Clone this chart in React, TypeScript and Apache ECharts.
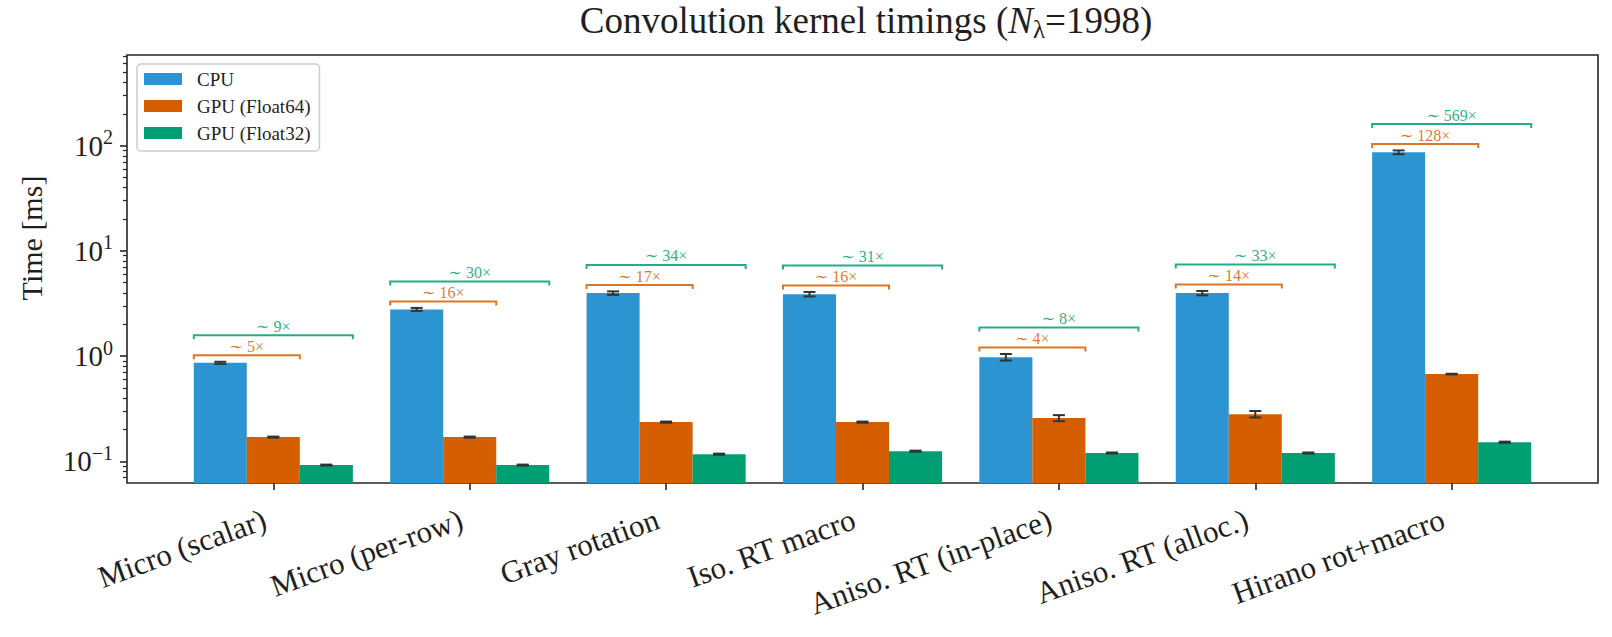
import * as echarts from "echarts";
import { useEffect, useRef } from "react";

const CATEGORIES = [
  "Micro (scalar)",
  "Micro (per-row)",
  "Gray rotation",
  "Iso. RT macro",
  "Aniso. RT (in-place)",
  "Aniso. RT (alloc.)",
  "Hirano rot+macro",
];

/** 各 kernel 平均耗时（ms）及误差（std），读自原图。 */
const CPU_MS = [0.864, 2.78, 3.97, 3.88, 0.978, 3.97, 86.5];
const CPU_ERR = [0.02, 0.09, 0.15, 0.19, 0.07, 0.19, 3.5];
const GPU64_MS = [0.17, 0.17, 0.236, 0.236, 0.258, 0.281, 0.675];
const GPU64_ERR = [0.002, 0.002, 0.003, 0.003, 0.017, 0.02, 0.005];
const GPU32_MS = [0.0922, 0.0922, 0.117, 0.125, 0.12, 0.12, 0.152];
const GPU32_ERR = [0.001, 0.001, 0.0015, 0.0015, 0.0015, 0.0015, 0.002];

/** 括号上的加速比标注。 */
const SPEEDUP_64 = [5, 16, 17, 16, 4, 14, 128];
const SPEEDUP_32 = [9, 30, 34, 31, 8, 33, 569];

const Y_MIN = 0.0623;
const Y_MAX = 726;
const Y_MAJOR_TICKS = [0.1, 1, 10, 100];
const Y_MINOR_TICKS = [
  0.07, 0.08, 0.09, 0.2, 0.3, 0.4, 0.5, 0.6, 0.7, 0.8, 0.9, 2, 3, 4, 5, 6, 7, 8, 9, 20, 30, 40,
  50, 60, 70, 80, 90, 200, 300, 400, 500, 600, 700,
];
const X_TICKS = [0, 1, 2, 3, 4, 5, 6];

const SERIES_NAMES = ["CPU", "GPU (Float64)", "GPU (Float32)"];
const SERIES_COLORS = ["#2c94d1", "#d55e00", "#009e73"];

const FONT = '"Liberation Serif", "DejaVu Serif", serif';
const INK = "#1f1f1f";
const FRAME = "#262626";
const ERR_COLOR = "#333333";
/** 每根柱宽（类目间距 = 1）。 */
const BAR_W = 0.27;
/** 括号高度：CPU 柱顶（含误差）× LIFT；Float32 括号再 × STEP。 */
const BRACKET_LIFT = 1.15;
const BRACKET_STEP = 1.55;

interface RectShape {
  x: number;
  y: number;
  width: number;
  height: number;
}

function barRenderer(offset: number, color: string): echarts.CustomSeriesRenderItem {
  return (params, api) => {
    const i = api.value(0) as number;
    const v = api.value(1) as number;
    const e = api.value(2) as number;
    const cs = params.coordSys as unknown as RectShape;
    const [x0, yTop] = api.coord([i + offset - BAR_W / 2, v]);
    const [x1] = api.coord([i + offset + BAR_W / 2, v]);
    const bottom = cs.y + cs.height;
    const xc = (x0 + x1) / 2;
    const yLo = api.coord([i, v - e])[1];
    const yHi = api.coord([i, v + e])[1];
    const errStyle = { stroke: ERR_COLOR, lineWidth: 2 };
    return {
      type: "group",
      children: [
        {
          type: "rect",
          shape: { x: x0, y: yTop, width: x1 - x0, height: bottom - yTop },
          style: { fill: color },
        },
        { type: "line", shape: { x1: xc, y1: yLo, x2: xc, y2: yHi }, style: errStyle },
        { type: "line", shape: { x1: xc - 6, y1: yLo, x2: xc + 6, y2: yLo }, style: errStyle },
        { type: "line", shape: { x1: xc - 6, y1: yHi, x2: xc + 6, y2: yHi }, style: errStyle },
      ],
    } as echarts.CustomSeriesRenderItemReturn;
  };
}

const bracketRenderer: echarts.CustomSeriesRenderItem = (_params, api) => {
  const i = api.value(0) as number;
  const top = api.value(1) as number;
  const s64 = api.value(2) as number;
  const s32 = api.value(3) as number;
  const y64 = top * BRACKET_LIFT;
  const y32 = y64 * BRACKET_STEP;
  const [xl, py64] = api.coord([i - 1.5 * BAR_W, y64]);
  const [xm] = api.coord([i + 0.5 * BAR_W, y64]);
  const [xr, py32] = api.coord([i + 1.5 * BAR_W, y32]);
  const bracket = (x1: number, x2: number, y: number, color: string) => ({
    type: "polyline",
    shape: {
      points: [
        [x1, y + 4],
        [x1, y],
        [x2, y],
        [x2, y + 4],
      ],
    },
    style: { stroke: color, lineWidth: 2, fill: "none", opacity: 0.85 },
  });
  const label = (x: number, y: number, text: string, color: string) => ({
    type: "text",
    silent: true,
    style: {
      text,
      x,
      y: y - 1,
      align: "center",
      verticalAlign: "bottom",
      fill: color,
      opacity: 0.85,
      fontSize: 16,
      fontFamily: FONT,
    },
  });
  return {
    type: "group",
    children: [
      bracket(xl, xm, py64, SERIES_COLORS[1]),
      label((xl + xm) / 2, py64, `\u223c ${s64}\u00d7`, SERIES_COLORS[1]),
      bracket(xl, xr, py32, SERIES_COLORS[2]),
      label((xl + xr) / 2, py32, `\u223c ${s32}\u00d7`, SERIES_COLORS[2]),
    ],
  } as echarts.CustomSeriesRenderItemReturn;
};

function yTickLabel(value: number): string {
  const exp = Math.round(Math.log10(value));
  const sup = exp < 0 ? `\u2212${-exp}` : `${exp}`;
  return `{b|10}{s|${sup}}`;
}

function buildOption(): echarts.EChartsOption {
  const gridBox = { left: 127, top: 55, right: 14, bottom: 154 };
  const values = [CPU_MS, GPU64_MS, GPU32_MS];
  const errs = [CPU_ERR, GPU64_ERR, GPU32_ERR];
  const offsets = [-BAR_W, 0, BAR_W];

  const barSeries = SERIES_NAMES.map((name, s) => ({
    type: "custom" as const,
    name,
    xAxisIndex: 0,
    yAxisIndex: 0,
    itemStyle: { color: SERIES_COLORS[s] },
    renderItem: barRenderer(offsets[s], SERIES_COLORS[s]),
    encode: { x: 0, y: 1 },
    data: values[s].map((v, i) => [i, v, errs[s][i]]),
  }));

  return {
    animation: false,
    title: {
      text: "{r|Convolution kernel timings (}{i|N}{sub|λ}{r|=1998)}",
      left: 861,
      top: -6,
      textAlign: "center",
      textStyle: {
        fontWeight: "normal",
        rich: {
          r: { fontFamily: FONT, fontSize: 37, fontWeight: "normal", color: INK },
          i: {
            fontFamily: FONT,
            fontSize: 37,
            fontWeight: "normal",
            fontStyle: "italic",
            color: INK,
          },
          sub: {
            fontFamily: FONT,
            fontSize: 25,
            fontWeight: "normal",
            color: INK,
            padding: [18, 0, 0, 0],
          },
        },
      },
    },
    legend: {
      data: SERIES_NAMES,
      orient: "vertical",
      left: 137,
      top: 64,
      icon: "rect",
      itemWidth: 38,
      itemHeight: 12,
      itemGap: 7,
      padding: [5, 9, 8, 7],
      backgroundColor: "rgba(255,255,255,0.8)",
      borderColor: "#cccccc",
      borderWidth: 1.5,
      borderRadius: 4,
      selectedMode: false,
      textStyle: {
        fontFamily: FONT,
        fontSize: 19,
        color: INK,
        lineHeight: 20,
        padding: [0, 0, 0, 10],
      },
    },
    grid: [
      { ...gridBox, show: true, borderColor: FRAME, borderWidth: 1.6 },
      { ...gridBox, show: false },
    ],
    xAxis: [
      {
        type: "value",
        gridIndex: 0,
        min: -0.745,
        max: 6.745,
        axisLine: { show: false, onZero: false },
        splitLine: { show: false },
        axisTick: {
          show: true,
          customValues: X_TICKS,
          length: 7,
          lineStyle: { color: FRAME, width: 1.6 },
        },
        axisLabel: {
          customValues: X_TICKS,
          formatter: (v: number) => CATEGORIES[Math.round(v)] ?? "",
          rotate: 20,
          margin: 32,
          padding: [0, 9, 0, 0],
          fontFamily: FONT,
          fontSize: 31,
          color: INK,
        },
      },
      {
        type: "value",
        gridIndex: 1,
        min: -0.745,
        max: 6.745,
        axisLine: { show: false, onZero: false },
        show: false,
      },
    ],
    yAxis: [
      {
        type: "log",
        gridIndex: 0,
        min: Y_MIN,
        max: Y_MAX,
        axisLine: { show: false, onZero: false },
        splitLine: { show: false },
        minorTick: { show: false },
        axisTick: {
          show: true,
          customValues: Y_MAJOR_TICKS,
          length: 7,
          lineStyle: { color: FRAME, width: 1.6 },
        },
        axisLabel: {
          customValues: Y_MAJOR_TICKS,
          margin: 14,
          formatter: (v: number) => yTickLabel(v),
          rich: {
            b: { fontFamily: FONT, fontSize: 29, color: INK },
            s: { fontFamily: FONT, fontSize: 20, color: INK, padding: [0, 0, 17, 0] },
          },
        },
      },
      {
        type: "log",
        gridIndex: 1,
        position: "left",
        min: Y_MIN,
        max: Y_MAX,
        axisLine: { show: false, onZero: false },
        splitLine: { show: false },
        axisLabel: { show: false },
        axisTick: {
          show: true,
          customValues: Y_MINOR_TICKS,
          length: 4,
          lineStyle: { color: FRAME, width: 1.2 },
        },
      },
    ],
    graphic: [
      {
        type: "text",
        x: 31,
        y: 238,
        rotation: Math.PI / 2,
        style: {
          text: "Time [ms]",
          align: "center",
          verticalAlign: "middle",
          fontFamily: FONT,
          fontSize: 30,
          fill: INK,
        },
      },
    ],
    series: [
      ...barSeries,
      {
        type: "custom",
        xAxisIndex: 0,
        yAxisIndex: 0,
        renderItem: bracketRenderer,
        encode: { x: 0, y: 1 },
        data: CPU_MS.map((v, i) => [i, v + CPU_ERR[i], SPEEDUP_64[i], SPEEDUP_32[i]]),
      },
    ],
  } as echarts.EChartsOption;
}

export default function App() {
  const ref = useRef<HTMLDivElement | null>(null);

  useEffect(() => {
    document.body.style.margin = "0";
    const el = ref.current;
    if (!el) {
      return undefined;
    }
    const chart = echarts.init(el, undefined, { renderer: "svg" });
    chart.setOption(buildOption());
    return () => {
      chart.dispose();
    };
  }, []);

  return <div ref={ref} style={{ width: 1612, height: 637 }} />;
}
